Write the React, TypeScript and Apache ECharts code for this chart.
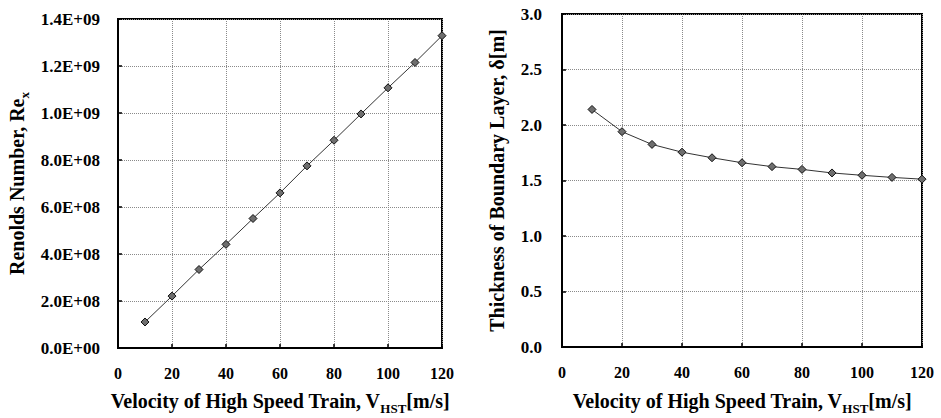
import React, { useEffect, useRef } from "react";
import * as echarts from "echarts";

const velocity = [10, 20, 30, 40, 50, 60, 70, 80, 90, 100, 110, 120];
const reynolds = [1.107e8, 2.21e8, 3.34e8, 4.41e8, 5.51e8, 6.6e8, 7.75e8, 8.84e8, 9.96e8, 1.107e9, 1.215e9, 1.329e9];
const thickness = [2.14, 1.94, 1.825, 1.755, 1.705, 1.66, 1.625, 1.6, 1.568, 1.547, 1.528, 1.512];

const FONT = "'Liberation Serif', 'Times New Roman', serif";

function sciLabel(v: number): string {
  if (v === 0) return "0.0E+00";
  const exp = Math.floor(Math.log10(v) + 1e-9);
  const mant = v / Math.pow(10, exp);
  return mant.toFixed(1) + "E+" + String(exp).padStart(2, "0");
}

export default function App() {
  const ref = useRef<HTMLDivElement>(null);
  useEffect(() => {
    if (!ref.current) return;
    const chart = echarts.init(ref.current, undefined, { renderer: "svg" });
    const labelStyle = { fontFamily: FONT, fontWeight: "bold" as const, fontSize: 16, color: "#000" };
    const nameBase = { fontFamily: FONT, fontWeight: "bold" as const, fontSize: 20, color: "#000" };
    const rich = {
      m: { fontFamily: FONT, fontWeight: "bold" as const, fontSize: 20, color: "#000", lineHeight: 24, verticalAlign: "top" as const, height: 20 },
      s: { fontFamily: FONT, fontWeight: "bold" as const, fontSize: 13, color: "#000", lineHeight: 10, verticalAlign: "bottom" as const },
    };
    const split = { show: true, lineStyle: { type: "dotted" as const, color: "#8a8a8a", width: 1 } };
    const tick = { show: true, inside: true, length: 4, lineStyle: { color: "#000", width: 1.5 } };
    const line = { show: true, lineStyle: { color: "#000", width: 2 } };
    const markerStyle = { color: "#6e6e6e", borderColor: "#111", borderWidth: 1 };
    chart.setOption({
      animation: false,
      backgroundColor: "#fff",
      grid: [
        { left: 118, top: 19, width: 324, height: 329, show: true, borderColor: "#000", borderWidth: 2, backgroundColor: "transparent", containLabel: false, outerBoundsMode: "none" },
        { left: 562, top: 14, width: 360, height: 333, show: true, borderColor: "#000", borderWidth: 2, backgroundColor: "transparent", containLabel: false, outerBoundsMode: "none" },
      ],
      xAxis: [
        {
          gridIndex: 0, type: "value", min: 0, max: 120, interval: 20,
          axisLine: line, axisTick: tick, splitLine: split,
          axisLabel: { ...labelStyle, margin: 17 },
          name: "{m|Velocity of High Speed Train, V}{s|HST}{m|[m/s]}",
          nameLocation: "middle", nameGap: 43, nameTextStyle: { ...nameBase, rich },
        },
        {
          gridIndex: 1, type: "value", min: 0, max: 120, interval: 20,
          axisLine: line, axisTick: tick, splitLine: split,
          axisLabel: { ...labelStyle, margin: 17 },
          name: "{m|Velocity of High Speed Train, V}{s|HST}{m|[m/s]}",
          nameLocation: "middle", nameGap: 44, nameTextStyle: { ...nameBase, rich },
        },
      ],
      yAxis: [
        {
          gridIndex: 0, type: "value", min: 0, max: 1.4e9, interval: 2e8,
          axisLine: line, axisTick: tick, splitLine: split,
          axisLabel: { ...labelStyle, fontSize: 17, margin: 18, formatter: (v: number) => sciLabel(v) },
          name: "{m|Renolds Number, Re}{s|x}",
          nameLocation: "middle", nameGap: 87, nameTextStyle: { ...nameBase, rich },
        },
        {
          gridIndex: 1, type: "value", min: 0, max: 3.0, interval: 0.5,
          axisLine: line, axisTick: tick, splitLine: split,
          axisLabel: { ...labelStyle, fontSize: 17, margin: 20, formatter: (v: number) => v.toFixed(1) },
          name: "{m|Thickness of Boundary Layer, δ[m]}",
          nameLocation: "middle", nameGap: 51, nameTextStyle: { ...nameBase, rich },
        },
      ],
      series: [
        {
          type: "line", xAxisIndex: 0, yAxisIndex: 0,
          data: velocity.map((v, i) => [v, reynolds[i]]),
          symbol: "diamond", symbolSize: 8,
          lineStyle: { color: "#333", width: 1 },
          itemStyle: markerStyle,
        },
        {
          type: "line", xAxisIndex: 1, yAxisIndex: 1,
          data: velocity.map((v, i) => [v, thickness[i]]),
          symbol: "diamond", symbolSize: 8,
          lineStyle: { color: "#333", width: 1 },
          itemStyle: markerStyle,
        },
      ],
    });
    return () => chart.dispose();
  }, []);
  return <div ref={ref} style={{ position: "fixed", left: 0, top: 0, width: 941, height: 418, background: "#fff" }} />;
}
